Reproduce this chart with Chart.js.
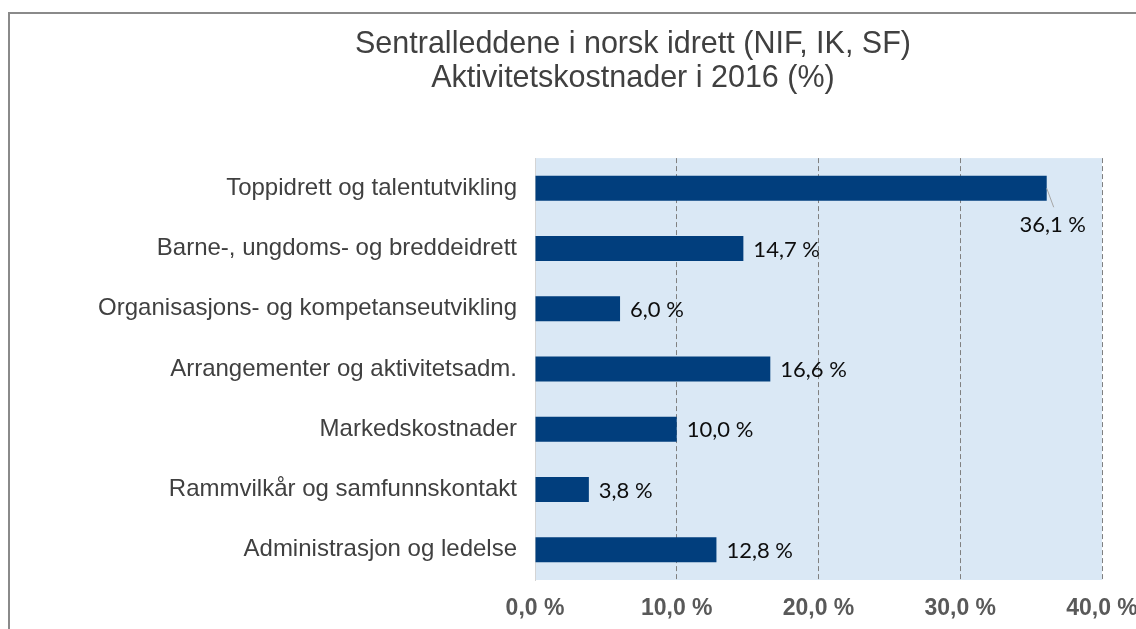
<!DOCTYPE html>
<html>
<head>
<meta charset="utf-8">
<script src="https://cdn.jsdelivr.net/npm/chart.js@4"></script>
<style>
  body { margin: 0; overflow: hidden; background: #fff; }
  #frame { position: absolute; left: 8px; top: 12px; width: 1246px; height: 640px; border: 2px solid #8a8a8a; }
</style>
</head>
<body>
<div id="frame"><canvas id="costChart" width="1246" height="640"></canvas></div>
<script>
// Chart data
const titleLines = ['Sentralleddene i norsk idrett (NIF, IK, SF)', 'Aktivitetskostnader i 2016 (%)'];
const categories = [
    'Toppidrett og talentutvikling',
    'Barne-, ungdoms- og breddeidrett',
    'Organisasjons- og kompetanseutvikling',
    'Arrangementer og aktivitetsadm.',
    'Markedskostnader',
    'Rammvilkår og samfunnskontakt',
    'Administrasjon og ledelse'
];
const values = [36.1, 14.7, 6.0, 16.6, 10.0, 3.8, 12.8];
const tickValues = [0, 10, 20, 30, 40];
const tickLabels = ['0,0 %', '10,0 %', '20,0 %', '30,0 %', '40,0 %'];

function fmt(v) {
    return v.toFixed(1).replace('.', ',') + ' %';
}

// Light blue plot background
const plotBg = {
    id: 'plotBg',
    beforeDraw(chart) {
        const { ctx, chartArea: a } = chart;
        ctx.save();
        ctx.fillStyle = '#dae8f5';
        ctx.fillRect(a.left, a.top, a.right - a.left, a.bottom - a.top);
        ctx.restore();
    }
};

// Value labels at bar ends (moved below with a leader line if they don't fit)
const valueLabels = {
    id: 'valueLabels',
    afterDatasetsDraw(chart) {
        const { ctx, chartArea: a } = chart;
        const meta = chart.getDatasetMeta(0);
        ctx.save();
        ctx.font = '22px Lato, "Noto Sans", sans-serif';
        ctx.fillStyle = '#0d0d0d';
        ctx.textBaseline = 'middle';
        meta.data.forEach((bar, i) => {
            const txt = fmt(values[i]);
            const w = ctx.measureText(txt).width;
            if (bar.x + 10 + w > a.right) {
                ctx.strokeStyle = '#a6a6a6';
                ctx.lineWidth = 1;
                ctx.beginPath();
                ctx.moveTo(bar.x, bar.y);
                ctx.lineTo(bar.x + 7, bar.y + 19);
                ctx.stroke();
                ctx.textAlign = 'center';
                ctx.fillText(txt, bar.x + 6, bar.y + 37);
            } else {
                ctx.textAlign = 'left';
                ctx.fillText(txt, bar.x + 10, bar.y + 1);
            }
        });
        ctx.restore();
    }
};

const ctx = document.getElementById('costChart').getContext('2d');
new Chart(ctx, {
    type: 'bar',
    data: {
        labels: categories,
        datasets: [{
            data: values,
            backgroundColor: '#013e7d',
            borderWidth: 0,
            barPercentage: 0.415,
            categoryPercentage: 1
        }]
    },
    options: {
        indexAxis: 'y',
        responsive: false,
        animation: false,
        layout: { padding: 0 },
        plugins: {
            legend: { display: false },
            tooltip: { enabled: false },
            title: {
                display: true,
                text: titleLines,
                color: '#404040',
                font: { family: '"Liberation Sans", Arial, sans-serif', size: 30.5, weight: 'normal', lineHeight: 1.1 },
                padding: { top: 14, bottom: 63 }
            }
        },
        scales: {
            x: {
                min: 0,
                max: 40,
                afterBuildTicks: (scale) => {
                    scale.ticks = tickValues.map(v => ({ value: v }));
                },
                afterFit: (scale) => { scale.height = 74; },
                ticks: {
                    padding: 15,
                    color: '#595959',
                    font: { family: '"Liberation Sans", Arial, sans-serif', size: 23, weight: 'bold' },
                    callback: (v) => tickLabels[tickValues.indexOf(v)]
                },
                grid: {
                    drawTicks: false,
                    color: (c) => c.tick && c.tick.value === 0 ? 'rgba(0,0,0,0)' : '#808080',
                    lineWidth: 1
                },
                border: { display: false, dash: [5, 3] }
            },
            y: {
                afterFit: (scale) => { scale.width = 525; },
                ticks: {
                    padding: 10,
                    color: '#404040',
                    font: { family: '"Liberation Sans", Arial, sans-serif', size: 24 }
                },
                grid: { display: false },
                border: { display: true, color: '#d4d4d4' }
            },
            // empty right-hand axis: reserves the space to the right of the plot
            // so that the title stays centred over the whole frame
            yRight: {
                type: 'category',
                position: 'right',
                afterFit: (scale) => { scale.width = 154; },
                ticks: { display: false },
                grid: { display: false },
                border: { display: false }
            }
        }
    },
    plugins: [plotBg, valueLabels]
});
</script>
</body>
</html>
